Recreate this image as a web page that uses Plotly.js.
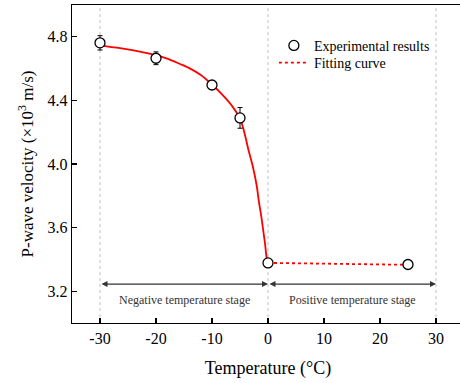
<!DOCTYPE html>
<html>
<head>
<meta charset="utf-8">
<script src="https://cdn.plot.ly/plotly-3.0.1.min.js"></script>
<style>html,body{margin:0;padding:0;overflow:hidden;background:#fff;}#chart{width:470px;height:383px;}</style>
</head>
<body>
<div id="chart"></div>
<script>
// ---- data ----
const expTemp = [-30, -20, -10, -5, 0, 25];
const expVel = [4.762, 4.665, 4.497, 4.29, 3.378, 3.368];
const expErr = [0.045, 0.04, 0.025, 0.065, 0.02, 0.025];

const fitNegTemp = [-30, -27, -24, -21, -18, -15.7, -13.9, -12, -10, -8, -6.4, -5, -4.2, -3.5, -2.7, -2, -1.66, -1.2, -0.77, -0.5, -0.24, 0];
const fitNegVel  = [4.745, 4.732, 4.714, 4.692, 4.663, 4.629, 4.60, 4.56, 4.50, 4.43, 4.364, 4.285, 4.195, 4.09, 3.983, 3.86, 3.771, 3.67, 3.56, 3.49, 3.41, 3.38];

const fitPosTemp = [0, 25];
const fitPosVel = [3.378, 3.366];

const xTickVals = [-30, -20, -10, 0, 10, 20, 30];
const xTickText = ['-30', '-20', '-10', '0', '10', '20', '30'];
const yTickVals = [3.2, 3.6, 4.0, 4.4, 4.8];
const yTickText = ['3.2', '3.6', '4.0', '4.4', '4.8'];

const gridX = [-30, 0, 30];
const stageLabels = ['Negative temperature stage', 'Positive temperature stage'];
const stageFrom = [-30, 0];
const stageTo = [0, 30];
const stageY = 3.245;
const stageTextY = 3.143;

const font = 'Liberation Serif, Times New Roman, serif';

const traces = [
  {
    x: fitNegTemp, y: fitNegVel, mode: 'lines', type: 'scatter',
    line: {color: '#ff0000', width: 1.8, shape: 'spline'},
    showlegend: false, hoverinfo: 'skip'
  },
  {
    x: fitPosTemp, y: fitPosVel, mode: 'lines', type: 'scatter',
    name: 'Fitting curve', legend: 'legend2',
    line: {color: '#ff0000', width: 1.8, dash: 'dot'}
  },
  {
    x: expTemp, y: expVel, mode: 'markers', type: 'scatter',
    name: 'Experimental results', legend: 'legend',
    marker: {symbol: 'circle', size: 10, color: '#ffffff', line: {color: '#000000', width: 1.3}},
    error_y: {type: 'data', array: expErr, visible: true, color: '#000000', thickness: 1, width: 2.5}
  }
];

const shapes = gridX.map(v => ({
  type: 'line', xref: 'x', yref: 'paper', x0: v, x1: v, y0: 0, y1: 1,
  line: {color: '#c0c0c0', width: 1, dash: 'dot'}, layer: 'below'
}));

const annotations = [];
for (let i = 0; i < stageLabels.length; i++) {
  annotations.push({
    x: stageTo[i], y: stageY, ax: stageFrom[i], ay: stageY,
    xref: 'x', yref: 'y', axref: 'x', ayref: 'y',
    text: '', showarrow: true, arrowhead: 2, arrowside: 'end+start',
    arrowsize: 1, arrowwidth: 1.2, arrowcolor: '#333333'
  });
  annotations.push({
    x: (stageFrom[i] + stageTo[i]) / 2, y: stageTextY, xref: 'x', yref: 'y',
    text: stageLabels[i], showarrow: false,
    font: {family: font, size: 12, color: '#333333'}
  });
}

const legendStyle = {
  xanchor: 'left', yanchor: 'top',
  font: {family: font, size: 14, color: '#000000'},
  bgcolor: 'rgba(0,0,0,0)', itemwidth: 30
};

const layout = {
  width: 470, height: 383,
  margin: {l: 72, r: 6, t: 5, b: 60},
  paper_bgcolor: '#ffffff', plot_bgcolor: '#ffffff',
  font: {family: font, color: '#000000'},
  showlegend: true,
  legend: Object.assign({x: 0.515, y: 0.922}, legendStyle),
  legend2: Object.assign({x: 0.515, y: 0.868}, legendStyle),
  xaxis: {
    range: [-35, 35], tickvals: xTickVals, ticktext: xTickText,
    ticks: 'inside', ticklen: 5, tickwidth: 1.2, tickcolor: '#000',
    showline: true, linecolor: '#000', linewidth: 1.3, mirror: true,
    showgrid: false, zeroline: false,
    tickfont: {family: font, size: 16, color: '#000'},
    title: {text: 'Temperature (°C)', font: {family: font, size: 18, color: '#000'}, standoff: 16}
  },
  yaxis: {
    range: [3.0, 5.0], tickvals: yTickVals, ticktext: yTickText,
    ticks: 'inside', ticklen: 5, tickwidth: 1.2, tickcolor: '#000',
    showline: true, linecolor: '#000', linewidth: 1.3, mirror: true,
    showgrid: false, zeroline: false,
    tickfont: {family: font, size: 16, color: '#000'},
    title: {text: 'P-wave velocity (×10<sup>3</sup> m/s)', font: {family: font, size: 17, color: '#000'}, standoff: 9}
  },
  shapes: shapes,
  annotations: annotations
};

Plotly.newPlot('chart', traces, layout, {displayModeBar: false, staticPlot: true});
</script>
</body>
</html>
